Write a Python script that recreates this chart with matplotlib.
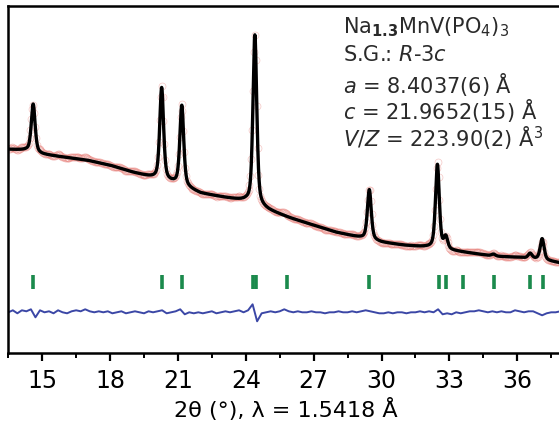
import numpy as np
import matplotlib
matplotlib.use('Agg')
import matplotlib.pyplot as plt
from matplotlib.ticker import MultipleLocator

# background (2theta, intensity a.u.)
bg_tt = [13.5, 14.3, 15.0, 16.0, 17.0, 18.0, 19.0, 20.0, 21.0, 22.0, 23.0, 24.0, 25.0,
         26.0, 27.0, 28.0, 29.0, 30.0, 31.0, 32.0, 33.0, 34.0, 35.0, 36.0, 37.0, 38.0]
bg_int = [204, 203, 199, 196, 193, 188, 181, 175, 169, 160, 156, 152, 143,
          135, 128, 121, 116, 111, 108, 106, 103, 100, 97, 96, 94, 90]

# observed peaks: positions and heights above background
peak_pos = [14.60, 20.28, 21.17, 24.40, 29.46, 32.47, 32.84, 34.95, 36.57, 37.10]
peak_h = [48, 92, 80, 170, 50, 84, 12, 2, 5, 21]
fwhm = 0.2

# reflection markers (green ticks)
hkl_pos = [14.60, 20.28, 21.17, 24.32, 24.45, 25.80, 29.46, 32.52, 32.85, 33.61,
           34.95, 36.55, 37.12]
tick_lo, tick_hi = 64, 78

# difference curve (obs - calc), sampled every 0.2 deg from 13.5
diff_tt0, diff_step = 13.5, 0.2
diff_vals = [0, 2, -1, 2, 1, 3, -5, 2, 0, 1,
             -1, 2, 0, -1, 1, 2, 1, 3, 1, 0,
             1, 0, 1, -1, 0, 1, -1, 0, 1, 0,
             -1, 1, 0, 1, 2, -1, 0, 1, 3, -2,
             0, -1, 0, -1, 0, 1, -1, 0, 1, 0,
             1, 2, 0, 2, 8, -9, -1, 0, 1, 0,
             1, 3, 1, 0, 1, 0, 0, 1, 0, 0,
             -1, 0, 0, 1, 0, 0, 1, 0, 1, 2,
             1, 0, -1, -1, 0, -1, 0, 0, -1, 0,
             0, 1, 0, 1, 0, 3, -2, -1, -2, 0,
             -1, 0, 1, 1, 2, 1, 0, 1, 0, 1,
             0, 0, 2, 1, 0, 1, 1, -1, -3, -1,
             0, 0, 1]
diff_offset = 41


def calc_profile(tt):
    y = np.interp(tt, bg_tt, bg_int).astype(float)
    hw = fwhm / 2
    for p, h in zip(peak_pos, peak_h):
        lor = 1 / (1 + ((tt - p) / hw) ** 2)
        gau = np.exp(-np.log(2) * ((tt - p) / hw) ** 2)
        y += h * (0.5 * lor + 0.5 * gau)
    return y


diff_tt = diff_tt0 + diff_step * np.arange(len(diff_vals))
diff_arr = np.array(diff_vals, dtype=float)

tt = np.arange(13.5, 38.0, 0.01)
ycalc = calc_profile(tt)
tt_obs = np.arange(13.52, 38.0, 0.04)
yobs = calc_profile(tt_obs) + np.interp(tt_obs, diff_tt, diff_arr)

fig = plt.figure(figsize=(5.59, 4.32), dpi=100)
ax = fig.add_axes([8.3 / 559, 1 - 353.3 / 432, 554.2 / 559, 347.3 / 432])

ax.plot(tt_obs, yobs, 'o', ms=5, mfc='none', mec='#e8807a', mew=0.5, alpha=0.45)
ax.plot(tt, ycalc, color='black', lw=2.4)
ax.vlines(hkl_pos, tick_lo, tick_hi, color='#1b8a4c', lw=2.6)
ax.plot(diff_tt, diff_arr + diff_offset, color='#3b47a6', lw=1.4)

ax.set_xlim(13.5, 38.0)
ax.set_ylim(0, 347.3)
ax.xaxis.set_major_locator(MultipleLocator(3))
ax.xaxis.set_minor_locator(MultipleLocator(1.5))
ax.set_yticks([])
for s in ['top', 'left', 'bottom']:
    ax.spines[s].set_linewidth(1.8)
ax.spines['right'].set_visible(False)
ax.tick_params(axis='x', which='major', direction='out', length=6, width=1.6,
               labelsize=17, pad=5)
ax.tick_params(axis='x', which='minor', direction='out', length=3.5, width=1.4)
ax.set_xlabel('2θ (°), λ = 1.5418 Å', fontsize=16, labelpad=4)

lines = [r'Na$_{\mathbf{1.3}}$MnV(PO$_4$)$_3$',
         r'S.G.: $\mathit{R}$-3$\mathit{c}$',
         r'$\mathit{a}$ = 8.4037(6) Å',
         r'$\mathit{c}$ = 21.9652(15) Å',
         r'$\mathit{V/Z}$ = 223.90(2) Å$^3$']
ys = [27, 55, 84, 111, 138]
for txt, yy in zip(lines, ys):
    fig.text(343 / 559, 1 - yy / 432, txt, fontsize=15, ha='left', va='center',
             color='#2a2a2a')

fig.savefig('out.png', dpi=100)
